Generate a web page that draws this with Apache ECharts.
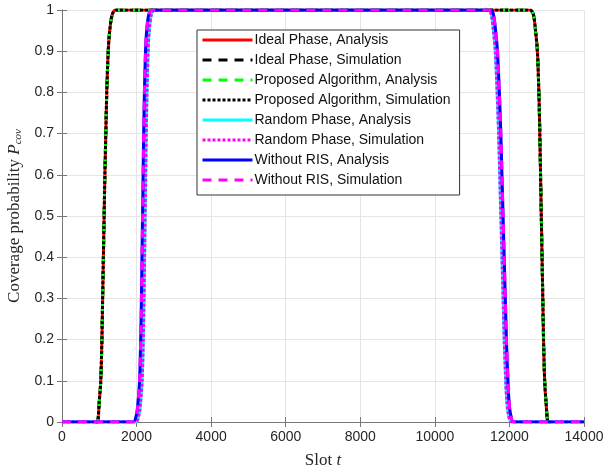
<!DOCTYPE html>
<html>
<head>
<meta charset="utf-8">
<script src="https://cdn.jsdelivr.net/npm/echarts@6/dist/echarts.min.js"></script>
<style>
  html, body { margin: 0; padding: 0; background: #fff; }
  #chart { width: 608px; height: 470px; }
</style>
</head>
<body>
<div id="chart"></div>
<script>
// group A: ideal phase + proposed algorithm (curves overlap)
const slotsA = [900, 950, 1000, 1040, 1070, 1090, 1110, 1130, 1150, 1175, 1200, 1240, 1280, 1350, 1450,
  12550, 12640, 12700, 12750, 12790, 12815, 12835, 12855, 12875, 12895, 12915, 12945, 12980, 13040, 13100];
const covA = [0, 0, 0.05, 0.1, 0.2, 0.3, 0.4, 0.5, 0.6, 0.7, 0.8, 0.9, 0.95, 0.99, 1,
  1, 0.99, 0.95, 0.9, 0.8, 0.7, 0.6, 0.5, 0.4, 0.3, 0.2, 0.1, 0.05, 0, 0];

// without RIS
const slotsNoRis = [0, 1900, 2000, 2040, 2080, 2110, 2130, 2145, 2160, 2175, 2190, 2210, 2240, 2270, 2330, 2420,
  11500, 11570, 11630, 11680, 11730, 11770, 11800, 11830, 11860, 11890, 11920, 11960, 11990, 12030, 12120, 14000];
// random phase
const slotsRand = [0, 1970, 2070, 2110, 2150, 2180, 2200, 2215, 2230, 2245, 2260, 2280, 2310, 2340, 2400, 2490,
  11440, 11510, 11570, 11620, 11670, 11710, 11740, 11770, 11800, 11830, 11860, 11900, 11930, 11970, 12060, 14000];
const covB = [0, 0, 0.02, 0.05, 0.1, 0.2, 0.3, 0.4, 0.5, 0.6, 0.7, 0.8, 0.9, 0.95, 0.99, 1,
  1, 0.99, 0.95, 0.9, 0.8, 0.7, 0.6, 0.5, 0.4, 0.3, 0.2, 0.1, 0.05, 0.02, 0, 0];

const names = ['Ideal Phase, Analysis', 'Ideal Phase, Simulation', 'Proposed Algorithm, Analysis',
  'Proposed Algorithm, Simulation', 'Random Phase, Analysis', 'Random Phase, Simulation',
  'Without RIS, Analysis', 'Without RIS, Simulation'];
const colors = ['#ff0000', '#000000', '#00ff00', '#000000', '#00ffff', '#ff00ff', '#0000ff', '#ff00ff'];
const styles = ['solid', [9, 7], [9, 7], [3, 2], 'solid', [3, 2], 'solid', [9, 7]];

function pairs(xs, ys) {
  return xs.map((x, i) => [x, ys[i]]);
}
const seriesData = [
  pairs(slotsA, covA), pairs(slotsA, covA), pairs(slotsA, covA), pairs(slotsA, covA),
  pairs(slotsRand, covB), pairs(slotsRand, covB), pairs(slotsNoRis, covB), pairs(slotsNoRis, covB)
];

const axisColor = '#777';
const labelFont = { color: '#262626', fontSize: 14, fontFamily: 'Liberation Sans, Arial, sans-serif' };
const serif = { fontFamily: 'Liberation Serif, serif', fontSize: 17, color: '#262626' };

const chart = echarts.init(document.getElementById('chart'));
chart.setOption({
  animation: false,
  backgroundColor: '#fff',
  grid: { left: 62, right: 24, top: 10, bottom: 48, outerBoundsMode: 'none' },
  legend: {
    orient: 'vertical',
    left: 197,
    top: 30,
    data: names,
    itemWidth: 50,
    itemHeight: 14,
    itemGap: 6,
    padding: [3, 9, 8, 4],
    borderColor: '#333',
    borderWidth: 1,
    backgroundColor: '#fff',
    itemStyle: { opacity: 0 },
    lineStyle: { width: 3 },
    textStyle: { color: '#111', fontSize: 14, fontFamily: 'Liberation Sans, Arial, sans-serif', padding: [0, 0, 0, -3] }
  },
  xAxis: [{
    type: 'value',
    min: 0, max: 14000, interval: 2000,
    name: '{r|Slot }{i|t}',
    nameLocation: 'middle',
    nameGap: 30,
    nameTextStyle: {
      rich: {
        r: serif,
        i: Object.assign({ fontStyle: 'italic' }, serif)
      }
    },
    axisLine: { show: true, lineStyle: { color: axisColor } },
    axisTick: { inside: true, length: 5, lineStyle: { color: axisColor } },
    axisLabel: Object.assign({ margin: 8, formatter: v => String(v) }, labelFont),
    splitLine: { show: true, lineStyle: { color: '#e5e5e5' } }
  }, {
    type: 'value', position: 'top',
    min: 0, max: 14000, interval: 2000,
    axisLine: { show: true, lineStyle: { color: axisColor } },
    axisTick: { inside: true, length: 5, lineStyle: { color: axisColor } },
    axisLabel: { show: false },
    splitLine: { show: false }
  }],
  yAxis: [{
    type: 'value',
    min: 0, max: 1, interval: 0.1,
    name: '{r|Coverage probability }{i|P}{s|cov}',
    nameLocation: 'middle',
    nameGap: 32,
    nameTextStyle: {
      rich: {
        r: serif,
        i: Object.assign({ fontStyle: 'italic' }, serif),
        s: { fontFamily: 'Liberation Serif, serif', fontSize: 11, fontStyle: 'italic', color: '#262626', padding: [8, 0, 0, 0] }
      }
    },
    axisLine: { show: true, lineStyle: { color: axisColor } },
    axisTick: { inside: true, length: 5, lineStyle: { color: axisColor } },
    axisLabel: Object.assign({ margin: 8, formatter: v => String(Math.round(v * 10) / 10) }, labelFont),
    splitLine: { show: true, lineStyle: { color: '#e5e5e5' } }
  }, {
    type: 'value', position: 'right',
    min: 0, max: 1, interval: 0.1,
    axisLine: { show: true, lineStyle: { color: axisColor } },
    axisTick: { inside: true, length: 5, lineStyle: { color: axisColor } },
    axisLabel: { show: false },
    splitLine: { show: false }
  }],
  series: names.map((name, i) => ({
    name: name,
    type: 'line',
    data: seriesData[i],
    showSymbol: false,
    symbol: 'none',
    smooth: 0.3,
    color: colors[i],
    lineStyle: { color: colors[i], width: 3, type: styles[i] }
  }))
});
</script>
</body>
</html>
